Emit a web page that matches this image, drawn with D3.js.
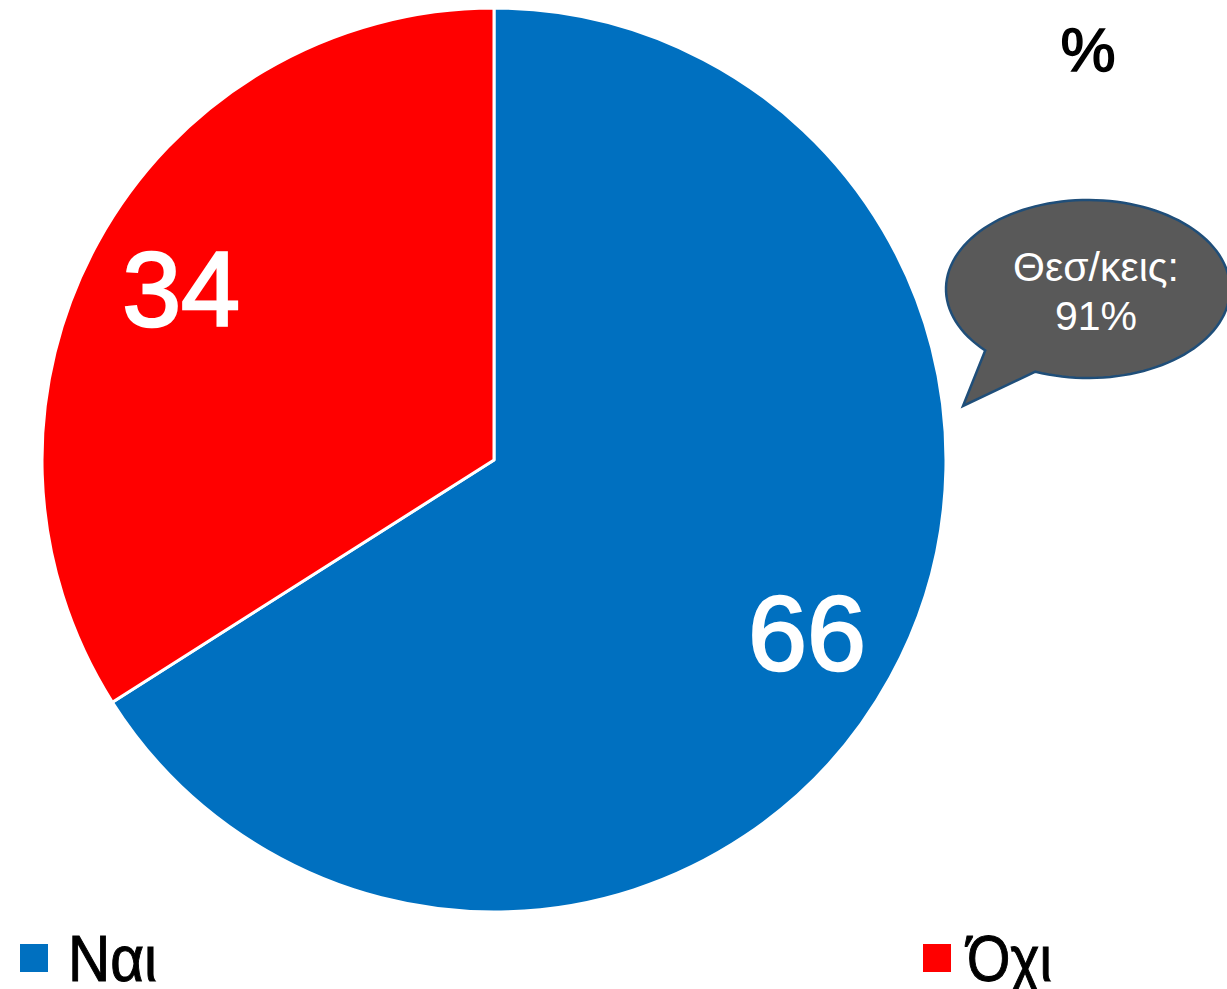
<!DOCTYPE html>
<html>
<head>
<meta charset="utf-8">
<script src="https://cdn.jsdelivr.net/npm/d3@7"></script>
<style>
body{margin:0;background:#fff;}
svg{display:block;}
</style>
</head>
<body>
<svg width="1227" height="989"></svg>
<script>
var categories = ["Ναι", "Όχι"];
var values = [66, 34];
var colors = ["#0070C0", "#FF0000"];
var unitLabel = "%";
var calloutLines = ["Θεσ/κεις:", "91%"];

var width = 1227, height = 989;
var cx = 494, cy = 460, r = 452;
var font = "'Liberation Sans', Arial, sans-serif";

var svg = d3.select("svg");

var pie = d3.pie().sort(null).value(d => d.value);
var data = categories.map((c, i) => ({name: c, value: values[i], color: colors[i]}));
var arcs = pie(data);

var arc = d3.arc().innerRadius(0).outerRadius(r);
var labelArc = d3.arc().innerRadius(r * 0.79).outerRadius(r * 0.79);

var g = svg.append("g").attr("transform", "translate(" + cx + "," + cy + ")");

g.selectAll("path")
	.data(arcs)
	.enter()
	.append("path")
	.attr("d", arc)
	.attr("fill", d => d.data.color)
	.attr("stroke", "#fff")
	.attr("stroke-width", 3)
	.attr("stroke-linejoin", "round");

g.selectAll("text.lbl")
	.data(arcs)
	.enter()
	.append("text")
	.attr("class", "lbl")
	.attr("x", d => labelArc.centroid(d)[0])
	.attr("y", d => labelArc.centroid(d)[1])
	.attr("text-anchor", "middle")
	.attr("dy", "0.36em")
	.style("font-family", font)
	.style("font-size", "106px")
	.style("fill", "#fff")
	.style("stroke", "#fff")
	.style("stroke-width", 2.5)
	.text(d => d.data.value);

// % sign top right
svg.append("text")
	.attr("x", 1088).attr("y", 71)
	.attr("text-anchor", "middle")
	.style("font-family", font)
	.style("font-size", "62px")
	.style("fill", "#000")
	.style("stroke", "#000")
	.style("stroke-width", 1.5)
	.text(unitLabel);

// speech bubble
var ex = 1088, ey = 289, rx = 142, ry = 89;
var a1 = 2.38, a2 = 1.95; // where the tail leaves the ellipse
var p2 = [ex + rx * Math.cos(a2), ey + ry * Math.sin(a2)];
var tip = [963, 406];
var bubble = d3.path();
bubble.moveTo(p2[0], p2[1]);
var steps = 120;
var start = a2, end = a1 - 2 * Math.PI;
for (var i = 1; i <= steps; i++) {
	var t = start + (end - start) * i / steps;
	bubble.lineTo(ex + rx * Math.cos(t), ey + ry * Math.sin(t));
}
bubble.lineTo(tip[0], tip[1]);
bubble.closePath();

svg.append("path")
	.attr("d", bubble.toString())
	.attr("fill", "#595959")
	.attr("stroke", "#1F4E79")
	.attr("stroke-width", 2.5)
	.attr("stroke-linejoin", "miter");

svg.selectAll("text.call")
	.data(calloutLines)
	.enter()
	.append("text")
	.attr("class", "call")
	.attr("x", 1096)
	.attr("y", (d, i) => 281 + i * 49)
	.attr("text-anchor", "middle")
	.style("font-family", font)
	.style("font-size", "41px")
	.style("fill", "#fff")
	.text(d => d);

// legend
var legendX = [20, 923];
var leg = svg.selectAll("g.leg")
	.data(data)
	.enter()
	.append("g")
	.attr("class", "leg")
	.attr("transform", (d, i) => "translate(" + legendX[i] + ",944)");

leg.append("rect")
	.attr("width", 28).attr("height", 28)
	.attr("fill", d => d.color);

leg.append("text")
	.attr("x", (d, i) => i == 0 ? 48 : 44)
	.attr("y", 37)
	.attr("textLength", (d, i) => i == 0 ? 89 : 85)
	.attr("lengthAdjust", "spacingAndGlyphs")
	.style("font-family", font)
	.style("font-size", "64px")
	.style("fill", "#000")
	.style("stroke", "#000")
	.style("stroke-width", 1)
	.text(d => d.name);
</script>
</body>
</html>
